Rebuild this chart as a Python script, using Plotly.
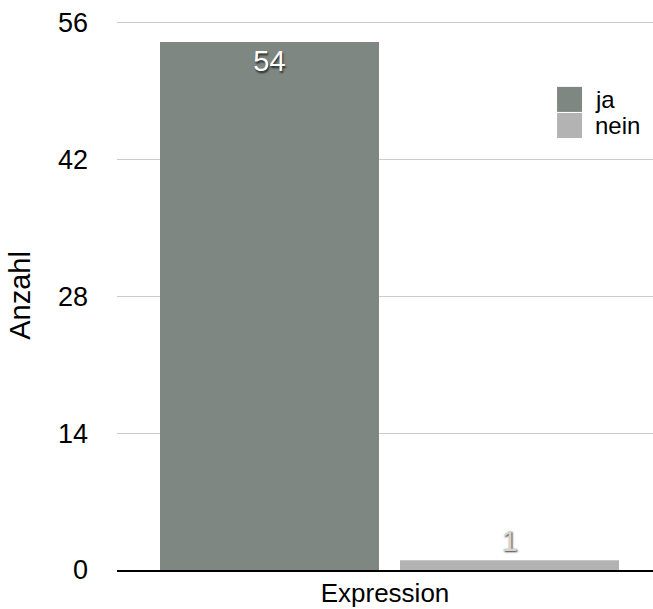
import plotly.graph_objects as go

categories = ["Expression"]
series_names = ["ja", "nein"]
ja_values = [54]
nein_values = [1]
y_ticks = [0, 14, 28, 42, 56]
colors = ["#7f8783", "#b3b3b3"]

FONT = "Liberation Sans, Arial, sans-serif"

fig = go.Figure()
fig.add_trace(go.Bar(
    x=categories, y=ja_values, name=series_names[0],
    marker=dict(color=colors[0], line=dict(width=0)),
    width=0.4086, offset=-0.4198,
    text=[str(v) for v in ja_values], textposition="inside",
    insidetextanchor="end",
    textfont=dict(family=FONT, size=29, color="white",
                  shadow="1px 2px 2px rgba(0,0,0,0.7)"),
    showlegend=False,
))
fig.add_trace(go.Bar(
    x=categories, y=nein_values, name=series_names[1],
    marker=dict(color=colors[1], line=dict(width=0)),
    width=0.4086, offset=0.028,
    text=[str(v) for v in nein_values], textposition="outside",
    textfont=dict(family=FONT, size=29, color="#d4d4d4",
                  shadow="1px 1px 2px rgba(0,0,0,0.8)"),
    cliponaxis=False,
    showlegend=False,
))

# manual legend (large square swatches)
leg_x0, leg_y0, sw, sh = 0.821, 0.88, 0.0466, 0.0456
for i, (name, col) in enumerate(zip(series_names, colors)):
    y_top = leg_y0 - i * (sh + 0.002)
    fig.add_shape(type="rect", xref="paper", yref="paper",
                  x0=leg_x0, x1=leg_x0 + sw, y0=y_top - sh, y1=y_top,
                  fillcolor=col, line=dict(width=0))
    fig.add_annotation(xref="paper", yref="paper", x=leg_x0 + sw + 0.02,
                       y=y_top - sh / 2, text=name, showarrow=False,
                       xanchor="left", yanchor="middle",
                       font=dict(family=FONT, size=24, color="black"))

fig.update_layout(
    width=653, height=609,
    margin=dict(l=117, r=0, t=21, b=39),
    paper_bgcolor="white", plot_bgcolor="white",
    barmode="overlay",
    font=dict(family=FONT, size=26, color="black"),
    xaxis=dict(
        range=[-0.5, 0.5],
        showline=True, linecolor="black", linewidth=2,
        showgrid=False, ticks="", showticklabels=False,
        title=dict(text="Expression", standoff=13, font=dict(size=26)),
    ),
    yaxis=dict(
        range=[0, 56.15], tickvals=y_ticks, ticktext=[str(t) for t in y_ticks],
        showgrid=True, gridcolor="#cccccc", gridwidth=1,
        zeroline=False, showline=False, ticks="",
        ticklabelstandoff=28,
        tickfont=dict(size=27),
        title=dict(text="Anzahl", standoff=18, font=dict(size=29)),
    ),
)

fig.write_html("out.html", config={"displayModeBar": False},
               post_script="document.body.style.margin='0';")
